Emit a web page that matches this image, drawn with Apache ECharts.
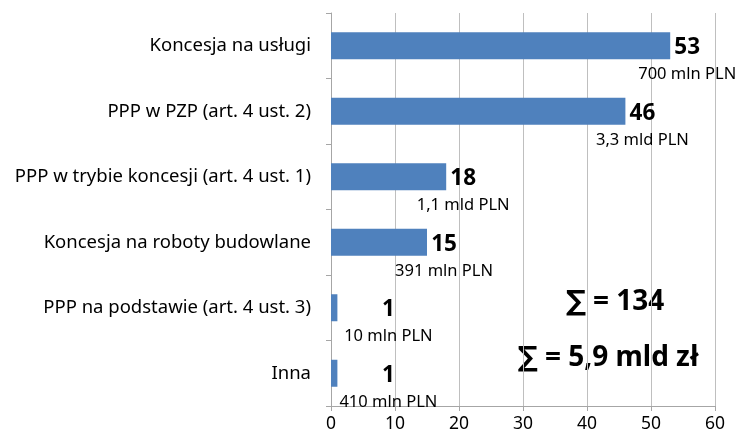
<!DOCTYPE html>
<html>
<head>
<meta charset="utf-8">
<script src="https://cdn.jsdelivr.net/npm/echarts@6/dist/echarts.min.js"></script>
<style>
  html, body { margin: 0; padding: 0; background: #fff; }
  #main { width: 741px; height: 439px; }
</style>
</head>
<body>
<div id="main"></div>
<script>
// dane
var categories = [
  'Koncesja na usługi',
  'PPP w PZP (art. 4 ust. 2)',
  'PPP w trybie koncesji (art. 4 ust. 1)',
  'Koncesja na roboty budowlane',
  'PPP na podstawie (art. 4 ust. 3)',
  'Inna'
];
var counts = [53, 46, 18, 15, 1, 1];
var amounts = ['700 mln PLN', '3,3 mld PLN', '1,1 mld PLN', '391 mln PLN', '10 mln PLN', '410 mln PLN'];
var xTicks = [0, 10, 20, 30, 40, 50, 60];
var totals = ['∑ = 134', '∑ = 5,9 mld zł'];

var font = '"Noto Sans", "DejaVu Sans", sans-serif';
var myChart = echarts.init(document.getElementById('main'));

var barData = counts.map(function (v, i) {
  return {
    value: v,
    label: { offset: [v < 5 ? 34 : 0, 16] }
  };
});

var option = {
  animation: false,
  grid: { left: 331, right: 26, top: 13, bottom: 33 },
  xAxis: {
    type: 'value',
    min: xTicks[0],
    max: xTicks[xTicks.length - 1],
    interval: 10,
    axisLine: { show: true, lineStyle: { color: '#a6a6a6' } },
    axisTick: { show: true, length: 5, lineStyle: { color: '#a6a6a6' } },
    splitLine: { show: true, lineStyle: { color: '#bfbfbf' } },
    axisLabel: { fontFamily: font, fontSize: 17.5, color: '#000', margin: 9 }
  },
  yAxis: {
    type: 'category',
    inverse: true,
    data: categories,
    axisLine: { show: true, lineStyle: { color: '#a6a6a6' } },
    axisTick: { show: true, length: 5, alignWithLabel: false, lineStyle: { color: '#a6a6a6' } },
    axisLabel: { fontFamily: font, fontSize: 18.5, color: '#000', margin: 20 }
  },
  series: [{
    type: 'bar',
    data: barData,
    barWidth: 27,
    itemStyle: { color: '#4f81bd' },
    label: {
      show: true,
      position: 'right',
      distance: 17,
      align: 'center',
      formatter: function (p) {
        return '{v|' + counts[p.dataIndex] + '}\n{s|' + amounts[p.dataIndex] + '}';
      },
      rich: {
        v: { fontFamily: font, fontSize: 22.5, fontWeight: 'bold', color: '#000', lineHeight: 26, align: 'center' },
        s: { fontFamily: font, fontSize: 16.5, color: '#000', lineHeight: 28, align: 'center' }
      }
    }
  }],
  graphic: [
    {
      type: 'text', x: 615, y: 302,
      style: { text: totals[0], fontFamily: font, fontSize: 28, fontWeight: 'bold', fill: '#000',
               textAlign: 'center', textVerticalAlign: 'middle' }
    },
    {
      type: 'text', x: 608, y: 358,
      style: { text: totals[1], fontFamily: font, fontSize: 28, fontWeight: 'bold', fill: '#000',
               textAlign: 'center', textVerticalAlign: 'middle' }
    }
  ]
};

myChart.setOption(option);
</script>
</body>
</html>
